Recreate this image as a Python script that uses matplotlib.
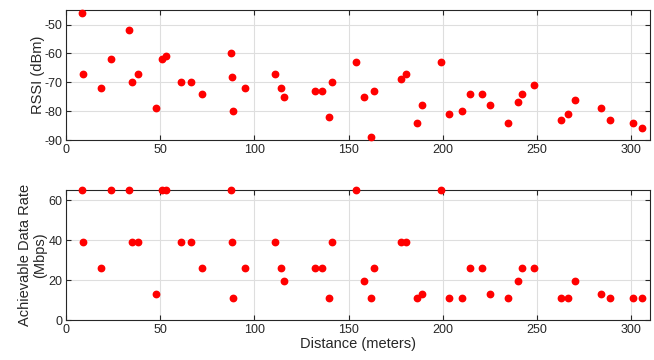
import matplotlib
matplotlib.use('Agg')
import matplotlib.pyplot as plt

plt.rcParams['font.family'] = ['Liberation Sans', 'DejaVu Sans']
plt.rcParams['axes.unicode_minus'] = False

# distance (m), RSSI (dBm) and achievable rate (Mbps) per measurement
distance = [8.5, 9.2, 18.5, 24.0, 33.4, 35.2, 38.2, 48.0, 50.8, 53.1,
            61.1, 66.4, 71.9, 87.6, 88.1, 88.6, 94.8, 110.7, 114.0, 115.6,
            132.1, 136.0, 139.6, 141.2, 154.0, 158.3, 162.1, 163.5, 177.7, 180.3,
            186.5, 188.7, 199.1, 203.2, 210.1, 214.2, 220.7, 225.0, 234.4, 239.9,
            242.2, 248.6, 262.8, 266.3, 270.4, 283.9, 288.7, 301.1, 305.5]
rssi = [-46, -67, -72, -62, -52, -70, -67, -79, -62, -61,
        -70, -70, -74, -60, -68, -80, -72, -67, -72, -75,
        -73, -73, -82, -70, -63, -75, -89, -73, -69, -67,
        -84, -78, -63, -81, -80, -74, -74, -78, -84, -77,
        -74, -71, -83, -81, -76, -79, -83, -84, -86]
rate = [65, 39, 26, 65, 65, 39, 39, 13, 65, 65,
        39, 39, 26, 65, 39, 11, 26, 39, 26, 19.5,
        26, 26, 11, 39, 65, 19.5, 11, 26, 39, 39,
        11, 13, 65, 11, 11, 26, 26, 13, 11, 19.5,
        26, 26, 11, 11, 19.5, 13, 11, 11, 11]

fig = plt.figure(figsize=(6.54, 3.6), dpi=100)
ax1 = fig.add_axes([0.101, 0.611, 0.893, 0.361])
ax2 = fig.add_axes([0.101, 0.111, 0.893, 0.361])

def style(ax):
    ax.set_xlim(0, 310)
    ax.set_xticks([0, 50, 100, 150, 200, 250, 300])
    ax.grid(True, color='#dedede', linewidth=0.8)
    ax.set_axisbelow(True)
    ax.tick_params(direction='in', top=True, right=True, length=3.5,
                   labelsize=9, colors='#262626', width=0.8, pad=2.5)
    for s in ax.spines.values():
        s.set_color('#262626')
        s.set_linewidth(0.8)

ax1.plot(distance, rssi, 'o', color='red', markersize=4.6, clip_on=False, zorder=3)
style(ax1)
ax1.set_ylim(-90, -45)
ax1.set_yticks([-90, -80, -70, -60, -50])
ax1.set_ylabel('RSSI (dBm)', fontsize=10.5, color='#262626', labelpad=0)

ax2.plot(distance, rate, 'o', color='red', markersize=4.6, clip_on=False, zorder=3)
style(ax2)
ax2.set_ylim(0, 65)
ax2.set_yticks([0, 20, 40, 60])
ax2.set_ylabel('Achievable Data Rate\n(Mbps)', fontsize=10.5, color='#262626',
               labelpad=1, linespacing=1.1)
ax2.set_xlabel('Distance (meters)', fontsize=10.5, color='#262626', labelpad=1)

fig.savefig('out.png', dpi=100)
